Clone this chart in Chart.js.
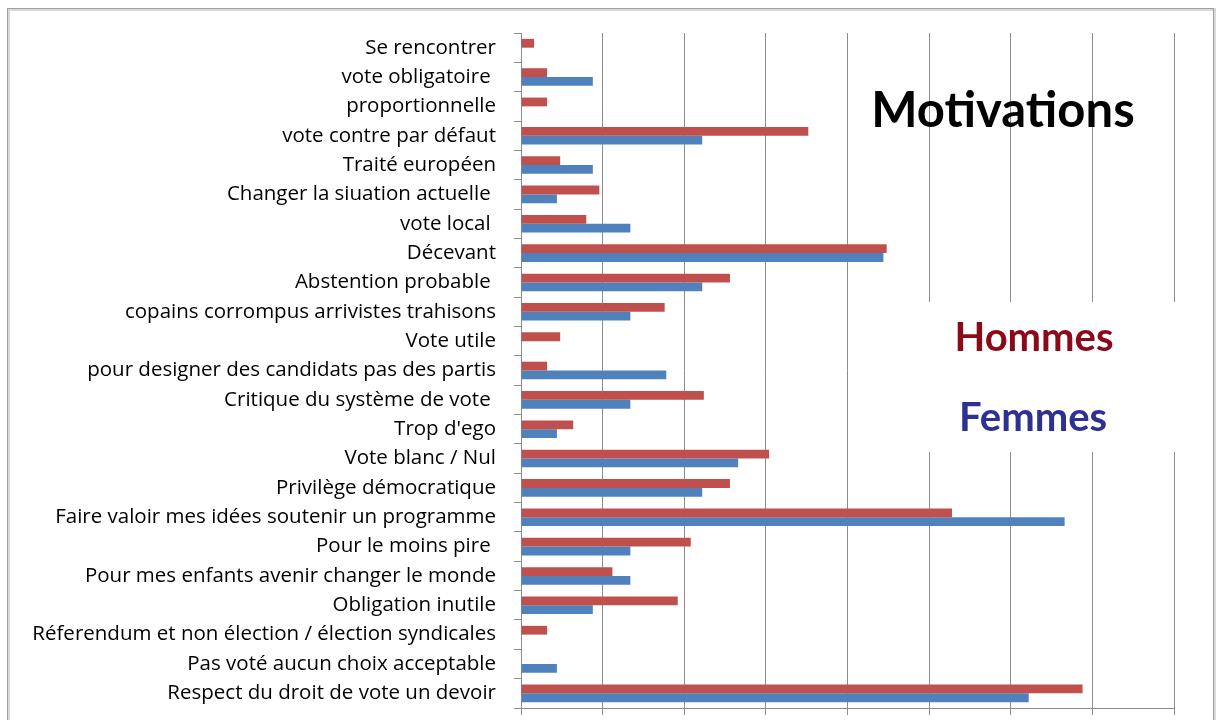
<!DOCTYPE html>
<html>
<head>
<meta charset="utf-8">
<script src="https://cdn.jsdelivr.net/npm/chart.js@4/dist/chart.umd.min.js"></script>
<style>
  html, body { margin: 0; padding: 0; background: #fff; overflow: hidden; }
  #wrap { position: relative; width: 1220px; height: 720px; }
</style>
</head>
<body>
<div id="wrap"><canvas id="myChart" width="1220" height="720"></canvas></div>
<script>
// Categories, top to bottom
var categories = [
    'Se rencontrer',
    'vote obligatoire ',
    'proportionnelle',
    'vote contre par défaut',
    'Traité européen',
    'Changer la siuation actuelle ',
    'vote local ',
    'Décevant',
    'Abstention probable ',
    'copains corrompus arrivistes trahisons',
    'Vote utile',
    'pour designer des candidats pas des partis',
    'Critique du système de vote ',
    "Trop d'ego",
    'Vote blanc / Nul',
    'Privilège démocratique',
    'Faire valoir mes idées soutenir un programme',
    'Pour le moins pire ',
    'Pour mes enfants avenir changer le monde',
    'Obligation inutile',
    'Réferendum et non élection / élection syndicales',
    'Pas voté aucun choix acceptable',
    'Respect du droit de vote un devoir'
];

// Percent of respondents
var hommes = [0.8, 1.6, 1.6, 17.6, 2.4, 4.8, 4.0, 22.4, 12.8, 8.8, 2.4, 1.6, 11.2, 3.2, 15.2, 12.8, 26.4, 10.4, 5.6, 9.6, 1.6, 0, 34.4];
var femmes = [0, 4.4, 0, 11.1, 4.4, 2.2, 6.7, 22.2, 11.1, 6.7, 0, 8.9, 6.7, 2.2, 13.3, 11.1, 33.3, 6.7, 6.7, 4.4, 0, 2.2, 31.1];

// x axis ticks (labels are not visible in the picture)
var xTicks = [0, 5, 10, 15, 20, 25, 30, 35, 40];

var data = {
    labels: categories,
    datasets: [{
        label: 'Hommes',
        data: hommes,
        backgroundColor: '#C0504D',
        borderWidth: 0,
        barPercentage: 1,
        categoryPercentage: 0.6
    }, {
        label: 'Femmes',
        data: femmes,
        backgroundColor: '#4F81BD',
        borderWidth: 0,
        barPercentage: 1,
        categoryPercentage: 0.6
    }]
};

// frame, title and text legend
var decor = {
    id: 'decor',
    beforeDraw: function (chart) {
        var c = chart.ctx;
        c.save();
        c.fillStyle = '#fff';
        c.fillRect(0, 0, chart.width, chart.height);
        c.strokeStyle = '#d9d9d9';
        c.lineWidth = 3;
        c.strokeRect(8.5, 9.5, 1206, 740);
        c.strokeStyle = '#a0a0a0';
        c.lineWidth = 1;
        c.strokeRect(7.5, 8.5, 1206, 740);
        c.restore();
    },
    afterDatasetsDraw: function (chart) {
        var c = chart.ctx;
        c.save();
        c.fillStyle = '#fff';
        c.fillRect(885, 302, 300, 150);
        c.textAlign = 'center';
        c.textBaseline = 'middle';
        c.fillStyle = '#000';
        c.font = 'bold 49px Lato';
        c.fillText('Motivations', 1003, 111);
        c.fillStyle = '#8B0A1A';
        c.font = 'bold 40px Lato';
        c.fillText('Hommes', 1034, 338);
        c.fillStyle = '#2E3192';
        c.fillText('Femmes', 1033, 418);
        c.restore();
    }
};

var options = {
    responsive: false,
    animation: false,
    indexAxis: 'y',
    layout: { padding: { top: 33, right: 46, bottom: 0, left: 0 } },
    plugins: {
        legend: { display: false },
        tooltip: { enabled: false }
    },
    scales: {
        x: {
            min: 0,
            max: 40,
            afterBuildTicks: function (scale) {
                scale.ticks = xTicks.map(function (v) { return { value: v }; });
            },
            afterFit: function (scale) {
                scale.height = 12;
                scale.paddingLeft = 0;
                scale.paddingRight = 0;
            },
            ticks: { display: false },
            grid: { color: '#8c8c8c', lineWidth: 1, tickLength: 7, tickColor: '#8c8c8c' },
            border: { color: '#8c8c8c' }
        },
        y: {
            afterFit: function (scale) {
                scale.width = 521;
                scale.paddingTop = 0;
                scale.paddingBottom = 0;
            },
            ticks: {
                color: '#000',
                padding: 18,
                autoSkip: false,
                font: { family: 'Open Sans', size: 20.5 }
            },
            grid: { drawOnChartArea: false, tickLength: 7, tickColor: '#8c8c8c' },
            border: { color: '#8c8c8c' }
        }
    }
};

var ctx = document.getElementById('myChart').getContext('2d');

var myChart = new Chart(ctx, {
    type: 'bar',
    data: data,
    options: options,
    plugins: [decor]
});
</script>
</body>
</html>
